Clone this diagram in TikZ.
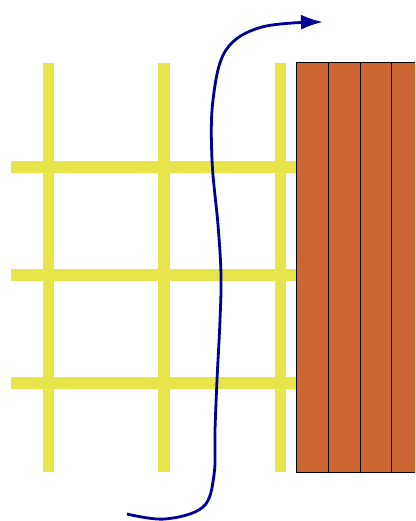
\documentclass[tikz,border=0pt]{standalone}
\usepackage{tikz}
\usetikzlibrary{arrows.meta}
\definecolor{gridyellow}{RGB}{230,230,75}
\definecolor{brick}{RGB}{204,102,51}
\definecolor{navyline}{RGB}{0,0,150}

\begin{document}
\begin{tikzpicture}[x=1pt, y=-1pt]
  \useasboundingbox (0,0) rectangle (415,521);
  \clip (0,0) rectangle (415,521);
  % yellow grid
  \foreach \x in {48.5,164,280.5}
    \fill[gridyellow] (\x-5.75,63) rectangle (\x+5.75,472);
  \foreach \y in {167,275,383}
    \fill[gridyellow] (11,\y-6) rectangle (296,\y+6);
  % planks
  \filldraw[fill=brick, draw=black, line width=1pt] (296,63) rectangle (424,472);
  \foreach \x in {328,360,391}
    \draw[black, line width=1pt] (\x,63) -- (\x,472);
  % path through the grid
  \coordinate (start) at (127,514);
  \coordinate (tip) at (323,22);
  \draw[navyline, line width=2.8pt, -{Latex[length=22pt, width=15pt]}]
    plot[smooth, tension=0.6] coordinates {(start) (165,519) (203,507) (214,475) (215,430)
      (217,380) (220,320) (221,275) (218,225) (212,160) (213,100) (226,50) (262,27) (tip)};
\end{tikzpicture}
\end{document}
